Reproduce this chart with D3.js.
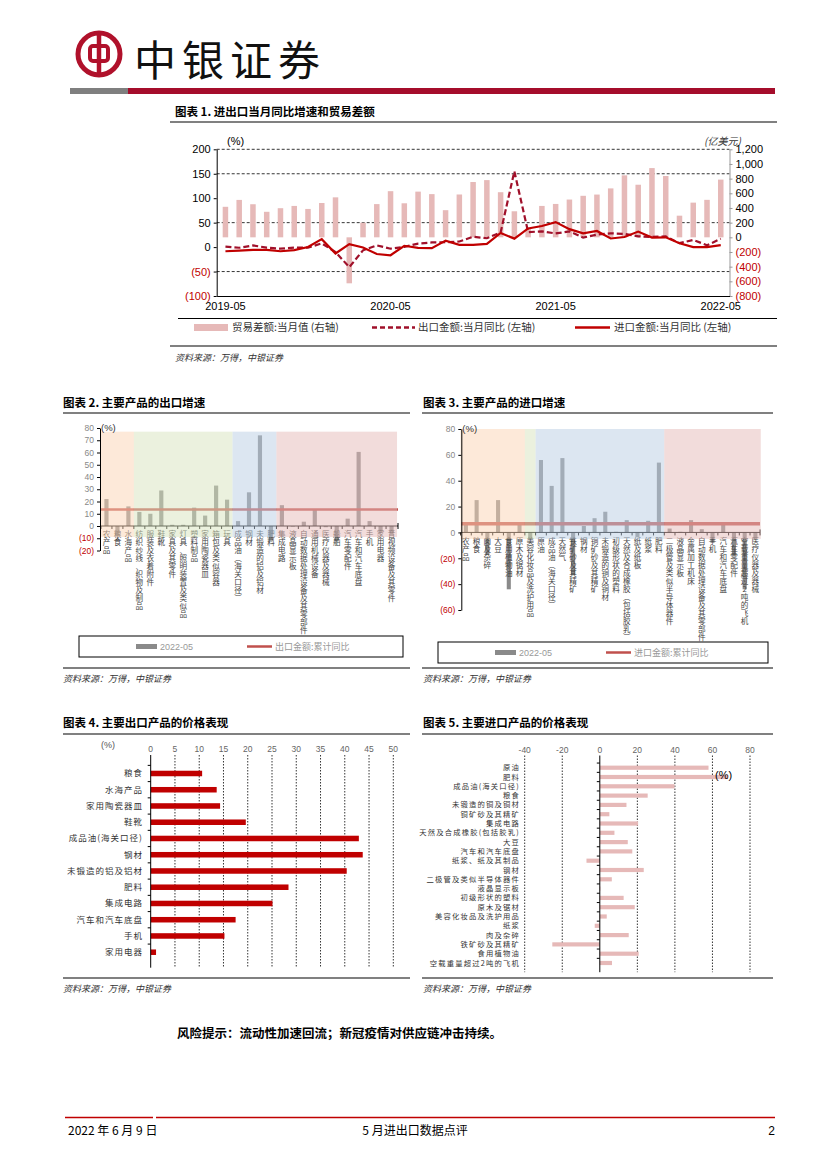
<!DOCTYPE html>
<html>
<head>
<meta charset="utf-8">
<script src="https://cdn.jsdelivr.net/npm/d3@7"></script>
<style>
  body { margin: 0; background: #fff; }
  svg text { font-family: "Liberation Sans", Arial, "Noto Sans CJK SC", sans-serif; }
  svg text.cn { font-family: "Noto Sans CJK SC", sans-serif; }
</style>
</head>
<body>
<svg id="page" width="827" height="1169"></svg>
<script>
// chart 1: monthly YoY and trade balance
const months = ["2019-05","2019-06","2019-07","2019-08","2019-09","2019-10","2019-11","2019-12",
  "2020-01","2020-02","2020-03","2020-04","2020-05","2020-06","2020-07","2020-08","2020-09","2020-10",
  "2020-11","2020-12","2021-01","2021-02","2021-03","2021-04","2021-05","2021-06","2021-07","2021-08",
  "2021-09","2021-10","2021-11","2021-12","2022-01","2022-02","2022-03","2022-04","2022-05"];
const balance = [416, 510, 451, 348, 397, 428, 387, 468, 545, -627, 199, 453, 629, 464, 623, 589, 370, 584,
  754, 780, 615, 355, 120, 428, 455, 515, 566, 583, 667, 845, 717, 944, 836, 295, 473, 511, 787];
const exportYoY = [1.1, -1.3, 3.3, -1.0, -3.2, -0.9, -1.1, 7.6, -10, -41, -6.6, 3.5, -3.3, 0.5, 7.2, 9.5, 9.9, 11.4,
  21.1, 18.1, 30, 154.9, 30.6, 32.3, 27.9, 32.2, 19.3, 25.6, 28.1, 27.1, 22.0, 20.9, 22, 8, 14.7, 3.9, 16.9];
const importYoY = [-8.5, -7.3, -5.6, -5.6, -8.5, -6.2, 0.3, 16.3, -13, 6, -0.9, -14.2, -16.7, 2.7, -1.4, -2.1, 13.2, 4.7,
  4.5, 6.5, 29, 17.3, 38.1, 43.1, 51.1, 36.7, 28.1, 33.1, 17.6, 20.6, 31.7, 19.5, 20, 8, -0.1, 0.0, 4.1];
const xTicks1 = ["2019-05", "2020-05", "2021-05", "2022-05"];
const leftTicks1 = [-100, -50, 0, 50, 100, 150, 200];
const rightTicks1 = [-800, -600, -400, -200, 0, 200, 400, 600, 800, 1000, 1200];
const gridTicks1 = [200, 150, 50, -50];

// chart 2: export growth by product
const exportCats = ["农产品","粮食","水海产品","纺织纱线、织物及制品","服装及衣着附件","鞋靴","家具及其零件",
  "灯具、照明装置及类似品","塑料制品","家用陶瓷器皿","箱包及类似容器","玩具","成品油(海关口径)","钢材",
  "未锻造的铝及铝材","肥料","集成电路","液晶显示板","自动数据处理设备及其零部件","通用机械设备",
  "医疗仪器及器械","船舶","汽车零配件","汽车和汽车底盘","手机","家用电器","音视频设备及其零件"];
const exportGrowth = [22, -8.5, 16, 11.5, 10, 29, 1, 1, 15, 8.5, 33, 21.5, 4, 27.5, 74, -12, 17, -0.5, 3.5, 13.5,
  -1, -12.5, 6, 60.5, 4, -5.5, -6.5];
const exportTotal = 13.5;
const exportZones = [["农产品","水海产品"], ["纺织纱线、织物及制品","玩具"], ["成品油(海关口径)","肥料"], ["集成电路","音视频设备及其零件"]];
const exportTicks = [-20, -10, 0, 10, 20, 30, 40, 50, 60, 70, 80];

// chart 3: import growth by product
const importCats = ["农产品","粮食","肉及杂碎","大豆","食用植物油","原木及锯材","美容化妆品及洗护用品","原油",
  "成品油(海关口径)","天然气","铁矿砂及其精矿","钢材","铜矿砂及其精矿","未锻造的铜及铜材","初级形状的塑料",
  "天然及合成橡胶(包括胶乳)","纸及纸板","纸浆","肥料","二极管及类似半导体器件","液晶显示板","金属加工机床",
  "自动数据处理设备及其零部件","手机","汽车和汽车底盘","汽车零配件","空载重量超过2吨的飞机","医疗仪器及器械"];
const importGrowth = [7, 25, -17.5, 25, -44, 6, -5, 56, 36, 57.5, -33, 5, 11, 16, 0.5, 9.5, -3.5, 9, 54, 3, 0.5,
  9.5, 2.5, -8, 6, -18, -44, -5];
const importTotal = 6.8;
const importZones = [["农产品","原木及锯材"], ["美容化妆品及洗护用品","美容化妆品及洗护用品"], ["原油","肥料"], ["二极管及类似半导体器件","医疗仪器及器械"]];
const importTicks = [-60, -40, -20, 0, 20, 40, 60, 80];

// chart 4: export prices
const exPriceCats = ["粮食","水海产品","家用陶瓷器皿","鞋靴","成品油(海关口径)","钢材","未锻造的铝及铝材",
  "肥料","集成电路","汽车和汽车底盘","手机","家用电器"];
const exPrice = [10.6, 13.6, 14.3, 19.6, 42.9, 43.7, 40.4, 28.4, 25.1, 17.5, 15.2, 1.1];
const exPriceTicks = [0, 5, 10, 15, 20, 25, 30, 35, 40, 45, 50];

// chart 5: import prices
const imPriceCats = ["原油","肥料","成品油(海关口径)","粮食","未锻造的铜及铜材","铜矿砂及其精矿","集成电路",
  "天然及合成橡胶(包括胶乳)","大豆","汽车和汽车底盘","纸浆、纸及其制品","钢材","二极管及类似半导体器件",
  "液晶显示板","初级形状的塑料","原木及锯材","美容化妆品及洗护用品","纸浆","肉及杂碎","铁矿砂及其精矿",
  "食用植物油","空载重量超过2吨的飞机"];
const imPrice = [57.9, 68, 39.8, 25.5, 14.2, 5.1, 20.4, 7.8, 14.9, 17.3, -7.1, 23.4, 6.4, 0.3, 12.7, 18.6, 3.7,
  -2.7, 15.4, -25.3, 20.7, 6.5];
const imPriceTicks = [-40, -20, 0, 20, 40, 60, 80];

const zoneColors = ["#fbd3b3", "#d7e3bd", "#b9cde3", "#e5b9b7"];
const RED = "#c00000";
const svg = d3.select("#page");
const paren = v => v < 0 ? "(" + d3.format(",")(-v) + ")" : d3.format(",")(v);

// header
const logo = svg.append("g").attr("stroke", "#b0112b").attr("fill", "none");
logo.append("circle").attr("cx", 99).attr("cy", 54).attr("r", 21).attr("stroke-width", 5);
logo.append("rect").attr("x", 90).attr("y", 46).attr("width", 18).attr("height", 15).attr("rx", 3).attr("stroke-width", 4);
logo.append("line").attr("x1", 99).attr("x2", 99).attr("y1", 33).attr("y2", 75).attr("stroke-width", 4.5);
svg.append("text").attr("class", "cn").attr("x", 134).attr("y", 76)
  .style("font-size", "42px").style("letter-spacing", "6px").attr("fill", "#111").text("中银证券");
svg.append("rect").attr("x", 70).attr("y", 88).attr("width", 58).attr("height", 6).attr("fill", "#7f7f7f");
svg.append("rect").attr("x", 128).attr("y", 88).attr("width", 647).attr("height", 6).attr("fill", "#a50d2b");

function title(x, y, t) {
  svg.append("text").attr("class", "cn").attr("x", x).attr("y", y)
    .style("font-size", "11.5px").style("font-weight", "bold").attr("fill", "#000").text(t);
}
function hline(x1, x2, y, color, w) {
  svg.append("line").attr("x1", x1).attr("x2", x2).attr("y1", y).attr("y2", y)
    .attr("stroke", color).attr("stroke-width", w);
}
function source(x, y) {
  svg.append("text").attr("class", "cn").attr("x", x).attr("y", y)
    .style("font-size", "9px").style("font-style", "italic").attr("fill", "#333").text("资料来源：万得，中银证券");
}

// ---------- chart 1 ----------
title(175, 116, "图表 1. 进出口当月同比增速和贸易差额");
hline(170, 777, 122, "#808080", 2);

const x1 = d3.scaleBand().domain(months).range([216.7, 729.5]).paddingInner(0.6).paddingOuter(0.435);
const yL = d3.scaleLinear().domain([-100, 200]).range([296, 149.3]);
const yR = d3.scaleLinear().domain([-800, 1200]).range([296, 149.3]);
const c1 = svg.append("g");

c1.selectAll("line.grid").data(gridTicks1).join("line").attr("class", "grid")
  .attr("x1", x1.range()[0]).attr("x2", x1.range()[1])
  .attr("y1", d => yL(d)).attr("y2", d => yL(d))
  .attr("stroke", "#000").attr("stroke-width", 0.8).attr("stroke-dasharray", "3,2");

c1.selectAll("rect.bal").data(balance).join("rect").attr("class", "bal")
  .attr("x", (d, i) => x1(months[i])).attr("width", x1.bandwidth())
  .attr("y", d => yR(Math.max(0, d))).attr("height", d => Math.abs(yR(d) - yR(0)))
  .attr("fill", "#e6b9b8");

const cx1 = i => x1(months[i]) + x1.bandwidth() / 2;
const lineL = d3.line().x((d, i) => cx1(i)).y(d => yL(d));
c1.append("path").attr("d", lineL(exportYoY)).attr("fill", "none")
  .attr("stroke", "#a0102a").attr("stroke-width", 2.2).attr("stroke-dasharray", "6,3");
c1.append("path").attr("d", lineL(importYoY)).attr("fill", "none")
  .attr("stroke", RED).attr("stroke-width", 2.2);

const axL = c1.append("g").attr("transform", "translate(" + x1.range()[0] + ",0)")
  .call(d3.axisLeft(yL).tickValues(leftTicks1).tickSize(3).tickSizeOuter(0).tickFormat(paren));
axL.selectAll("text").style("font-size", "11px").attr("fill", d => d < 0 ? RED : "#000");

const axR = c1.append("g").attr("transform", "translate(" + x1.range()[1] + ",0)")
  .call(d3.axisRight(yR).tickValues(rightTicks1).tickSize(3).tickSizeOuter(0).tickFormat(paren));
axR.select(".domain").attr("stroke", "#999");
axR.selectAll(".tick line").attr("stroke", "#999");
axR.selectAll("text").style("font-size", "11px").attr("fill", d => d < 0 ? RED : "#000");

const axB = c1.append("g").attr("transform", "translate(0," + yL(-100) + ")")
  .call(d3.axisBottom(x1).tickValues(xTicks1).tickSize(0).tickPadding(6).tickSizeOuter(0));
axB.selectAll("text").style("font-size", "11px").attr("fill", "#000");

c1.append("text").attr("x", 227).attr("y", 145).style("font-size", "11px").text("(%)");
c1.append("text").attr("class", "cn").attr("x", 704).attr("y", 145).style("font-size", "10px")
  .style("font-style", "italic").attr("fill", "#333").text("(亿美元)");

// legend
hline(178, 777, 318.5, "#000", 1);
const lg1 = svg.append("g");
lg1.append("rect").attr("x", 194).attr("y", 324).attr("width", 34).attr("height", 7).attr("fill", "#e6b9b8");
lg1.append("text").attr("class", "cn").attr("x", 232).attr("y", 331).style("font-size", "10.5px")
  .attr("fill", "#333").text("贸易差额:当月值 (右轴)");
lg1.append("line").attr("x1", 372).attr("x2", 415).attr("y1", 327.5).attr("y2", 327.5)
  .attr("stroke", "#a0102a").attr("stroke-width", 2.5).attr("stroke-dasharray", "5,3");
lg1.append("text").attr("class", "cn").attr("x", 418).attr("y", 331).style("font-size", "10.5px")
  .attr("fill", "#333").text("出口金额:当月同比 (左轴)");
lg1.append("line").attr("x1", 575).attr("x2", 610).attr("y1", 327.5).attr("y2", 327.5)
  .attr("stroke", RED).attr("stroke-width", 2.5);
lg1.append("text").attr("class", "cn").attr("x", 614).attr("y", 331).style("font-size", "10.5px")
  .attr("fill", "#333").text("进口金额:当月同比 (左轴)");
hline(170, 777, 346, "#808080", 2);
source(175, 361);

// stack the characters of a label one under the other
function verticalLabel(sel, cx, y0, size) {
  sel.each(function (d) {
    const t = d3.select(this);
    const chars = Array.from(d.replace(/\(/g, "︵").replace(/\)/g, "︶"));
    chars.forEach((ch, k) => {
      t.append("tspan").attr("x", cx(d)).attr("y", y0 + (k + 0.9) * size).text(ch);
    });
  });
}

// ---------- charts 2 and 3: vertical bars with shaded groups ----------
function vbarChart(o) {
  const g = svg.append("g");
  const x = d3.scaleBand().domain(o.cats).range(o.xRange).paddingInner(0.62).paddingOuter(o.outer);
  const y = d3.scaleLinear().domain(o.yDomain).range(o.yRange);
  const gap = x.step() - x.bandwidth();

  g.selectAll("rect.bar").data(o.vals).join("rect").attr("class", "bar")
    .attr("x", (d, i) => x(o.cats[i])).attr("width", x.bandwidth())
    .attr("y", d => y(Math.max(0, d))).attr("height", d => Math.abs(y(d) - y(0)))
    .attr("fill", "#8a8a8a");

  // x axis along zero
  g.append("line").attr("x1", o.xRange[0]).attr("x2", o.xRange[1]).attr("y1", y(0)).attr("y2", y(0))
    .attr("stroke", "#000").attr("stroke-width", 1);
  g.selectAll("line.xt").data(o.cats).join("line").attr("class", "xt")
    .attr("x1", d => x(d) - gap / 2).attr("x2", d => x(d) - gap / 2)
    .attr("y1", y(0)).attr("y2", y(0) + 3).attr("stroke", "#000");
  g.append("line").attr("x1", o.xRange[1]).attr("x2", o.xRange[1]).attr("y1", y(0) - 3).attr("y2", y(0) + 3)
    .attr("stroke", "#000");

  // category labels, one character per line
  g.selectAll("text.cat").data(o.cats).join("text").attr("class", "cn cat")
    .attr("text-anchor", "middle").style("font-size", "7.6px").attr("fill", "#444")
    .call(verticalLabel, d => x(d) + x.bandwidth() / 2, y(0) + 4, 8);

  // total line
  g.append("line").attr("x1", o.xRange[0]).attr("x2", o.xRange[1])
    .attr("y1", y(o.total)).attr("y2", y(o.total))
    .attr("stroke", "#c0504d").attr("stroke-width", o.lineW);

  // translucent group shading on top
  g.selectAll("rect.zone").data(o.zones).join("rect").attr("class", "zone")
    .attr("x", d => x(d[0]) - gap / 2)
    .attr("width", d => x(d[1]) + x.bandwidth() + gap / 2 - (x(d[0]) - gap / 2))
    .attr("y", y(o.zoneTop)).attr("height", y(o.zoneBottom) - y(o.zoneTop))
    .attr("fill", (d, i) => zoneColors[i]).attr("fill-opacity", 0.5);

  // y axis
  const ay = g.append("g").attr("transform", "translate(" + o.xRange[0] + ",0)")
    .call(d3.axisLeft(y).tickValues(o.ticks).tickSize(3).tickSizeOuter(0).tickFormat(paren));
  ay.selectAll("text").style("font-size", "8.5px").attr("fill", d => d < 0 ? RED : "#888");
  g.append("text").attr("x", o.xRange[0] + 1).attr("y", y(o.yDomain[1]) + 3)
    .style("font-size", "9.5px").attr("fill", "#333").text("(%)");

  // legend
  const L = o.legend;
  g.append("rect").attr("x", L.x).attr("y", L.y).attr("width", L.w).attr("height", 21)
    .attr("fill", "none").attr("stroke", "#000").attr("stroke-width", 1);
  g.append("rect").attr("x", L.x + 57).attr("y", L.y + 8).attr("width", 21).attr("height", 5).attr("fill", "#8a8a8a");
  g.append("text").attr("x", L.x + 81).attr("y", L.y + 14).style("font-size", "9px").attr("fill", "#999").text("2022-05");
  g.append("line").attr("x1", L.x + 168).attr("x2", L.x + 193).attr("y1", L.y + 10.5).attr("y2", L.y + 10.5)
    .attr("stroke", "#c0504d").attr("stroke-width", 2.5);
  g.append("text").attr("class", "cn").attr("x", L.x + 196).attr("y", L.y + 14).style("font-size", "9px")
    .attr("fill", "#999").text(L.label);
}

title(63, 407, "图表 2. 主要产品的出口增速");
hline(63, 410, 413, "#808080", 2);
vbarChart({
  cats: exportCats, vals: exportGrowth, total: exportTotal, zones: exportZones,
  xRange: [100, 398], outer: 0.4, yDomain: [-20, 80], yRange: [550.5, 428], ticks: exportTicks,
  zoneTop: 77, zoneBottom: -9, lineW: 2.5,
  legend: { x: 79, y: 636, w: 324, label: "出口金额:累计同比" }
});
hline(63, 410, 668, "#808080", 2);
source(63, 682);

title(423, 407, "图表 3. 主要产品的进口增速");
hline(422, 773, 413, "#808080", 2);
vbarChart({
  cats: importCats, vals: importGrowth, total: importTotal, zones: importZones,
  xRange: [461.3, 760], outer: 0.24, yDomain: [-60, 80], yRange: [610, 429], ticks: importTicks,
  zoneTop: 80, zoneBottom: -5, lineW: 3.5,
  legend: { x: 438, y: 642, w: 330, label: "进口金额:累计同比" }
});
hline(422, 773, 668, "#808080", 2);
source(423, 682);

// ---------- charts 4 and 5: horizontal bars ----------
function hbarChart(o) {
  const g = svg.append("g");
  const x = d3.scaleLinear().domain(o.xDomain).range(o.xRange);
  const y = d3.scaleBand().domain(o.cats).range(o.yRange).padding(o.pad);
  const top = o.yRange[0] - 5, bottom = o.yRange[1] + 2;

  g.selectAll("line.grid").data(o.ticks.filter(t => t !== 0)).join("line").attr("class", "grid")
    .attr("x1", d => x(d)).attr("x2", d => x(d)).attr("y1", top).attr("y2", bottom)
    .attr("stroke", "#000").attr("stroke-width", 0.8).attr("stroke-dasharray", "1.5,1.5");

  g.selectAll("rect.bar").data(o.vals).join("rect").attr("class", "bar")
    .attr("y", (d, i) => y(o.cats[i])).attr("height", y.bandwidth())
    .attr("x", d => x(Math.min(0, d))).attr("width", d => Math.abs(x(d) - x(0)))
    .attr("fill", o.color);

  // zero axis with ticks between categories
  g.append("line").attr("x1", x(0)).attr("x2", x(0)).attr("y1", top).attr("y2", bottom)
    .attr("stroke", "#000").attr("stroke-width", 1);
  const step = y.step(), half = (step - y.bandwidth()) / 2;
  g.selectAll("line.yt").data(o.cats).join("line").attr("class", "yt")
    .attr("x1", x(0) - 3).attr("x2", x(0))
    .attr("y1", d => y(d) - half).attr("y2", d => y(d) - half).attr("stroke", "#000");

  g.selectAll("text.tick").data(o.ticks).join("text").attr("class", "tick")
    .attr("x", d => x(d)).attr("y", top - 3).attr("text-anchor", "middle")
    .style("font-size", "8.5px").attr("fill", "#666").text(d => d);

  g.selectAll("text.cat").data(o.cats).join("text").attr("class", "cn cat")
    .attr("x", o.labelX).attr("y", d => y(d) + y.bandwidth() / 2).attr("dy", "0.35em")
    .attr("text-anchor", "end").style("font-size", o.labelSize).style("letter-spacing", o.spacing)
    .attr("fill", "#333").text(d => d);

  g.append("text").attr("x", o.pct[0]).attr("y", o.pct[1]).style("font-size", o.pctSize)
    .attr("fill", o.pctColor).text("(%)");
}

title(63, 727, "图表 4. 主要出口产品的价格表现");
hline(63, 410, 734, "#808080", 2);
hbarChart({
  cats: exPriceCats, vals: exPrice, ticks: exPriceTicks, xDomain: [0, 50], xRange: [150.7, 393.3],
  yRange: [760, 965.7], pad: 0.66, color: "#c00000", labelX: 143, labelSize: "8.5px", spacing: "1px",
  pct: [101, 748], pctSize: "9px", pctColor: "#555"
});
hline(63, 410, 978, "#808080", 2);
source(63, 992);

title(423, 727, "图表 5. 主要进口产品的价格表现");
hline(422, 773, 734, "#808080", 2);
hbarChart({
  cats: imPriceCats, vals: imPrice, ticks: imPriceTicks, xDomain: [-40, 80], xRange: [524.7, 750],
  yRange: [760.5, 970.2], pad: 0.55, color: "#e6b9b8", labelX: 520, labelSize: "7.3px", spacing: "1.2px",
  pct: [715, 779], pctSize: "11px", pctColor: "#000"
});
hline(422, 773, 978, "#808080", 2);
source(423, 992);

// risk note and footer
svg.append("text").attr("class", "cn").attr("x", 177).attr("y", 1038)
  .style("font-size", "12.5px").style("font-weight", "bold").attr("fill", "#000")
  .text("风险提示：流动性加速回流；新冠疫情对供应链冲击持续。");
hline(65, 153, 1117.5, RED, 1.5);
hline(156, 775, 1117.5, RED, 1.5);
const foot = svg.append("g").style("font-size", "12px").attr("fill", "#000");
foot.append("text").attr("x", 68).attr("y", 1135)
  .style("font-family", "'Liberation Sans Narrow','Noto Sans CJK SC',sans-serif").text("2022 年 6 月 9 日");
foot.append("text").attr("x", 415).attr("y", 1135).attr("text-anchor", "middle")
  .style("font-family", "'Liberation Sans Narrow','Noto Sans CJK SC',sans-serif").text("5 月进出口数据点评");
foot.append("text").attr("x", 775).attr("y", 1135).attr("text-anchor", "end")
  .style("font-family", "'Liberation Sans Narrow',sans-serif").text("2");
</script>
</body>
</html>
